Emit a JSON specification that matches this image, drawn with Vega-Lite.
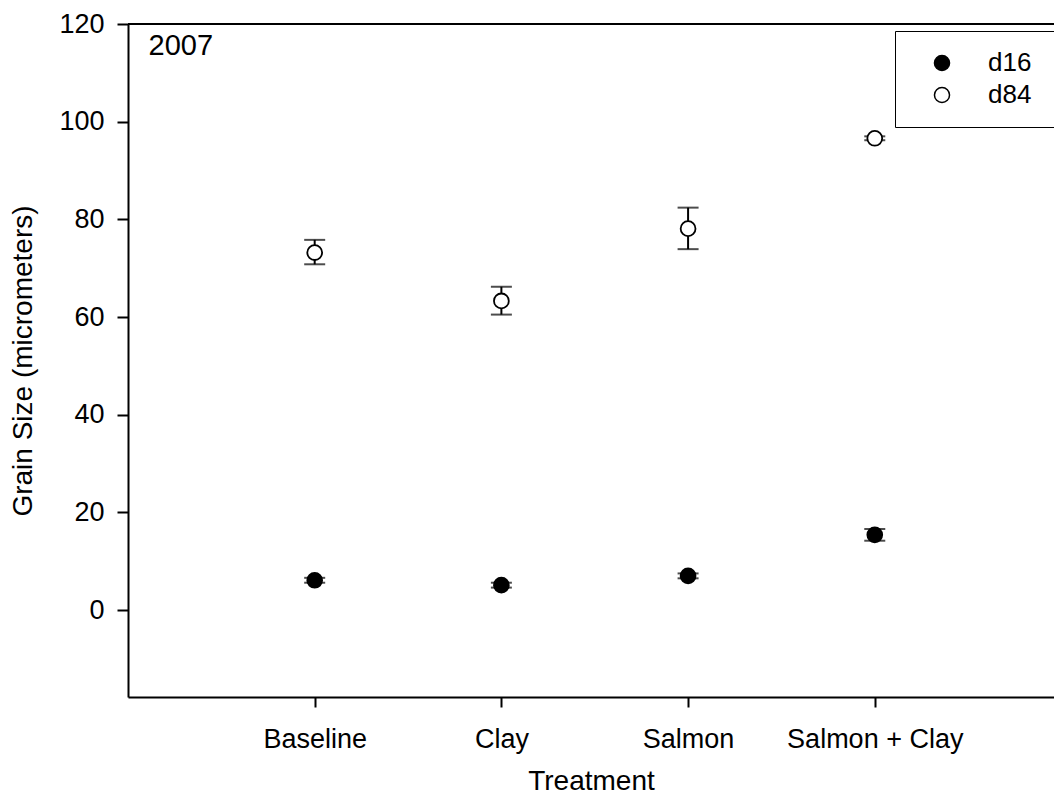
{
  "$schema": "https://vega.github.io/schema/vega-lite/v6.json",
  "width": 926,
  "height": 673,
  "autosize": {"type": "none"},
  "padding": {"left": 128, "top": 24, "right": 0, "bottom": 105},
  "background": "white",
  "config": {
    "view": {"stroke": null},
    "font": "Liberation Sans",
    "axis": {
      "grid": false,
      "domainColor": "black",
      "domainWidth": 2,
      "tickColor": "black",
      "tickWidth": 2,
      "labelColor": "black",
      "titleColor": "black",
      "labelFont": "Liberation Sans",
      "titleFont": "Liberation Sans",
      "labelFontSize": 27,
      "titleFontSize": 28,
      "titleFontWeight": "normal"
    }
  },
  "data": {
    "values": [
      {"treatment": "Baseline", "t": 1, "series": "d16", "mean": 6.1, "lo": 5.6, "hi": 6.6},
      {"treatment": "Clay", "t": 2, "series": "d16", "mean": 5.1, "lo": 4.6, "hi": 5.6},
      {"treatment": "Salmon", "t": 3, "series": "d16", "mean": 7.0, "lo": 6.5, "hi": 7.5},
      {"treatment": "Salmon + Clay", "t": 4, "series": "d16", "mean": 15.4, "lo": 14.2, "hi": 16.6},
      {"treatment": "Baseline", "t": 1, "series": "d84", "mean": 73.2, "lo": 70.8, "hi": 75.8},
      {"treatment": "Clay", "t": 2, "series": "d84", "mean": 63.3, "lo": 60.5, "hi": 66.2},
      {"treatment": "Salmon", "t": 3, "series": "d84", "mean": 78.1, "lo": 73.9, "hi": 82.4},
      {"treatment": "Salmon + Clay", "t": 4, "series": "d84", "mean": 96.6, "lo": 96.2, "hi": 97.0}
    ]
  },
  "layer": [
    {
      "mark": {"type": "rule", "color": "black", "strokeWidth": 2},
      "encoding": {
        "x": {
          "field": "t", "type": "quantitative",
          "scale": {"domain": [0, 4.96], "nice": false, "zero": false},
          "axis": {
            "title": "Treatment",
            "values": [1, 2, 3, 4],
            "labelExpr": "datum.value == 1 ? 'Baseline' : datum.value == 2 ? 'Clay' : datum.value == 3 ? 'Salmon' : 'Salmon + Clay'",
            "tickSize": 10,
            "labelPadding": 19,
            "titlePadding": 15
          }
        },
        "y": {
          "field": "lo", "type": "quantitative",
          "scale": {"domain": [-17.8, 120], "nice": false, "zero": false},
          "axis": {
            "title": "Grain Size (micrometers)",
            "values": [0, 20, 40, 60, 80, 100, 120],
            "tickSize": 11,
            "labelPadding": 13,
            "titlePadding": 21
          }
        },
        "y2": {"field": "hi"}
      }
    },
    {
      "mark": {"type": "tick", "orient": "horizontal", "color": "black", "thickness": 2, "size": 21},
      "encoding": {
        "x": {"field": "t", "type": "quantitative"},
        "y": {"field": "lo", "type": "quantitative"}
      }
    },
    {
      "mark": {"type": "tick", "orient": "horizontal", "color": "black", "thickness": 2, "size": 21},
      "encoding": {
        "x": {"field": "t", "type": "quantitative"},
        "y": {"field": "hi", "type": "quantitative"}
      }
    },
    {
      "mark": {"type": "point", "shape": "circle", "size": 220, "stroke": "black", "strokeWidth": 1.8, "opacity": 1, "filled": false},
      "encoding": {
        "x": {"field": "t", "type": "quantitative"},
        "y": {"field": "mean", "type": "quantitative"},
        "fill": {
          "field": "series", "type": "nominal",
          "scale": {"domain": ["d16", "d84"], "range": ["black", "white"]},
          "legend": {
            "orient": "none",
            "legendX": 767,
            "legendY": 7,
            "title": null,
            "strokeColor": "black",
            "fillColor": "white",
            "padding": 19,
            "symbolType": "circle",
            "symbolSize": 227,
            "symbolStrokeColor": "black",
            "symbolStrokeWidth": 1.5,
            "symbolOffset": 15,
            "labelOffset": 33,
            "labelFontSize": 26,
            "labelColor": "black",
            "labelFont": "Liberation Sans",
            "rowPadding": 6,
            "labelLimit": 400,
            "labelExpr": "datum.label + '\u2800\u2800\u2800\u2800'",
            "encode": {"legend": {"update": {"strokeWidth": {"value": 1.5}}}}
          }
        }
      }
    },
    {
      "data": {"values": [{"yr": "2007", "x": 0.11, "y": 115.4}]},
      "mark": {"type": "text", "align": "left", "baseline": "middle", "fontSize": 29, "font": "Liberation Sans", "color": "black"},
      "encoding": {
        "x": {"field": "x", "type": "quantitative"},
        "y": {"field": "y", "type": "quantitative"},
        "text": {"field": "yr"}
      }
    },
    {
      "data": {"values": [{"top": 120}]},
      "mark": {"type": "rule", "color": "black", "strokeWidth": 2},
      "encoding": {
        "y": {"field": "top", "type": "quantitative"}
      }
    }
  ]
}
